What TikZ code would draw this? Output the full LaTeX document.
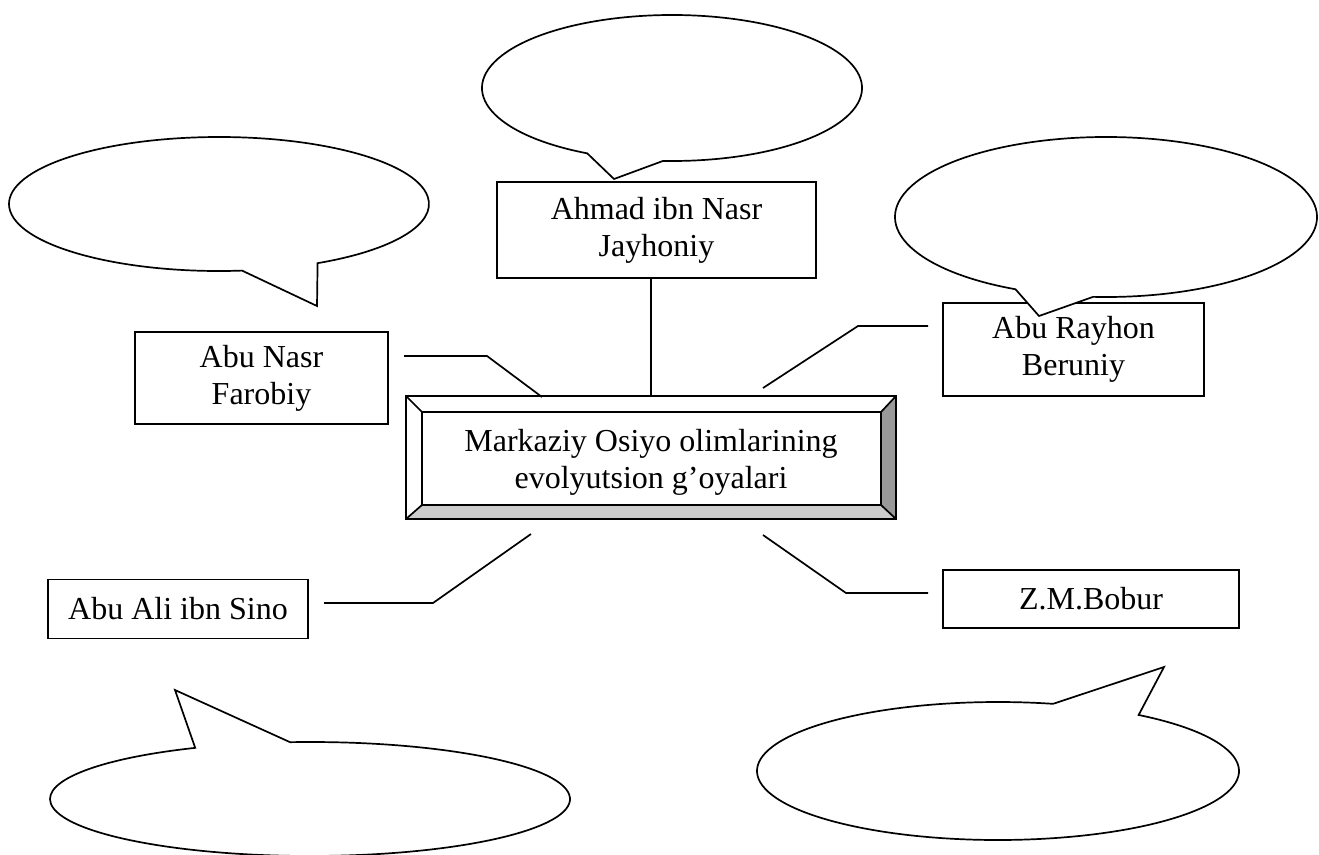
\documentclass[tikz,border=0pt]{standalone}
\usepackage{fontspec}
\setmainfont{Liberation Serif}
\usetikzlibrary{calc}
\begin{document}
\begin{tikzpicture}[x=1pt,y=-1pt,line width=1.7pt,
  txt/.style={font=\fontsize{32}{37}\selectfont},
  person/.style={draw,fill=white,txt,align=center,inner sep=0pt},
  bubble/.style={draw,fill=white,line join=miter},
  link/.style={draw,line join=miter}]
\useasboundingbox (0,0) rectangle (1319,854);
\clip (-2,-2) rectangle (1321,856);

% person boxes
\node[person,minimum width=319pt,minimum height=96pt] (ahmad) at (656.5,230) {Ahmad ibn Nasr\\Jayhoniy};
\node[person,minimum width=253pt,minimum height=92pt] (farobiy) at (261.5,378) {Abu Nasr\\Farobiy};
\node[person,minimum width=261pt,minimum height=93pt] (beruniy) at (1073.5,349.5) {Abu Rayhon\\Beruniy};
\node[person,minimum width=260pt,minimum height=59pt] (sino) at (178,609) {Abu Ali ibn Sino};
\node[person,minimum width=296pt,minimum height=58pt] (bobur) at (1091,599) {Z.M.Bobur};

% central bevelled box
\node[minimum width=488pt,minimum height=121pt,inner sep=0pt] (central) at (651,457.5) {};
\coordinate (o1) at (central.north west);
\coordinate (o2) at (central.north east);
\coordinate (o3) at (central.south east);
\coordinate (o4) at (central.south west);
\coordinate (i1) at ($(o1)+(16,16)$);
\coordinate (i2) at ($(o2)+(-15,16)$);
\coordinate (i3) at ($(o3)+(-15,-14)$);
\coordinate (i4) at ($(o4)+(16,-14)$);
\fill[white] (o1) -- (o2) -- (o3) -- (o4) -- cycle;
\fill[gray!40] (o4) -- (o3) -- (i3) -- (i4) -- cycle;
\fill[gray!80] (o2) -- (o3) -- (i3) -- (i2) -- cycle;
\draw (o1) -- (o2) -- (o3) -- (o4) -- cycle;
\draw (i1) -- (i2) -- (i3) -- (i4) -- cycle;
\draw (o1) -- (i1) (o2) -- (i2) (o3) -- (i3) (o4) -- (i4);
\node[txt,align=center,inner sep=0pt] (centraltext) at ($(central.center)+(0,5)$) {Markaziy Osiyo olimlarining\\evolyutsion g’oyalari};

% connectors
\coordinate (fA) at (404,356);
\coordinate (fB) at (487,356);
\coordinate (fC) at (542,397);
\draw[link] (fA) -- (fB) -- (fC);
\draw[link] (ahmad.south -| central.north) -- (central.north);
\coordinate (bA) at (763,388);
\coordinate (bB) at (858,326);
\coordinate (bC) at (928,326);
\draw[link] (bA) -- (bB) -- (bC);
\coordinate (sA) at (324,603);
\coordinate (sB) at (433,603);
\coordinate (sC) at (531,534);
\draw[link] (sA) -- (sB) -- (sC);
\coordinate (zA) at (763,535);
\coordinate (zB) at (846,593);
\coordinate (zC) at (928,593);
\draw[link] (zA) -- (zB) -- (zC);

% callouts
\draw[bubble] (672,88) ++(116.5:190 and 73) arc[start angle=116.5,end angle=452.7,x radius=190,y radius=73] -- (614,179) -- cycle;
\draw[bubble] (219,204) ++(83.7:210 and 67) arc[start angle=83.7,end angle=422,x radius=210,y radius=67] -- (317,306) -- cycle;
\draw[bubble] (1106,217) ++(115.4:211 and 80) arc[start angle=115.4,end angle=453.5,x radius=211,y radius=80] -- (1039,316) -- cycle;
\draw[bubble] (998,771) ++(305.7:241 and 69) arc[start angle=305.7,end angle=643.2,x radius=241,y radius=69] -- (1164,667) -- cycle;
\draw[bubble] (310,799) ++(265.6:260 and 57) arc[start angle=265.6,end angle=603.8,x radius=260,y radius=57] -- (175,690) -- cycle;
\end{tikzpicture}
\end{document}
